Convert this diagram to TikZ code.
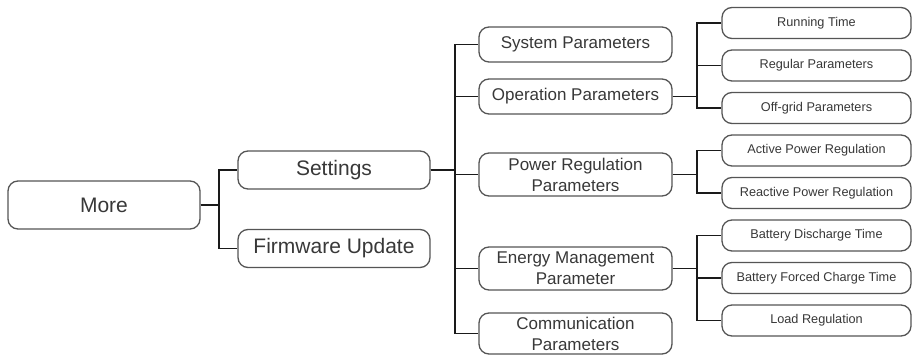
\documentclass[tikz,border=0pt]{standalone}
\usepackage{fontspec}
\setmainfont{Liberation Sans}
\usepackage{xcolor}
\definecolor{boxgray}{HTML}{555555}
\definecolor{textgray}{HTML}{383838}
\definecolor{linkblack}{HTML}{1A1A1A}
\usepackage{tikz}
\usetikzlibrary{positioning}

\begin{document}
\begin{tikzpicture}[
  x=1pt,y=-1pt,
  node distance=10.2pt,
  base/.style ={rectangle,draw=boxgray,line width=1.3pt,rounded corners=10pt,
                fill=white,text=textgray,align=center,inner sep=2pt},
  root/.style ={base,minimum width=192pt,minimum height=48pt,
                font=\fontsize{21}{25}\selectfont},
  menu/.style ={base,minimum width=192pt,minimum height=38pt,
                font=\fontsize{21}{25}\selectfont},
  group/.style={base,minimum width=193pt,minimum height=35pt,
                font=\fontsize{17}{21}\selectfont},
  leaf/.style ={base,minimum width=189pt,minimum height=31pt,
                font=\fontsize{12.7}{15}\selectfont},
  link/.style ={line width=1.8pt,linkblack}
]
\useasboundingbox (0,0) rectangle (912,355);

% left part
\node[root] (more)     at (104,205)   {More};
\node[menu] (settings) at (334,170)   {Settings};
\node[menu] (firmware) at (334,248.5) {Firmware Update};

% settings groups
\node[group] (sys)    at (575.5,44.5)  {System Parameters};
\node[group] (op)     at (575.5,96.5)  {Operation Parameters};
\node[group,minimum height=43pt] (power)  at (575.5,174.5) {Power Regulation\\Parameters};
\node[group,minimum height=43pt] (energy) at (575.5,268.5) {Energy Management\\Parameter};
\node[group,minimum height=41pt] (comm)   at (575.5,333.5) {Communication\\Parameters};

% leaves
\node[leaf] (run)       at (816.5,23)  {Running Time};
\node[leaf,below=of run]       (regular)   {Regular Parameters};
\node[leaf,below=of regular]   (offgrid)   {Off-grid Parameters};
\node[leaf,below=of offgrid]   (active)    {Active Power Regulation};
\node[leaf,below=of active]    (reactive)  {Reactive Power Regulation};
\node[leaf,below=of reactive]  (discharge) {Battery Discharge Time};
\node[leaf,below=of discharge] (forced)    {Battery Forced Charge Time};
\node[leaf,below=of forced]    (load)      {Load Regulation};

% branch points
\coordinate (jmore)  at (219,0);
\coordinate (jset)   at (455,0);
\coordinate (jright) at (697,0);

\foreach \n in {settings,firmware}
  \draw[link] (more.east) -- (more.east -| jmore) |- (\n.west);
\foreach \n in {sys,op,power,energy,comm}
  \draw[link] (settings.east) -- (settings.east -| jset) |- (\n.west);
\foreach \n in {run,regular,offgrid}
  \draw[link] (op.east) -- (op.east -| jright) |- (\n.west);
\foreach \n in {active,reactive}
  \draw[link] (power.east) -- (power.east -| jright) |- (\n.west);
\foreach \n in {discharge,forced,load}
  \draw[link] (energy.east) -- (energy.east -| jright) |- (\n.west);

\end{tikzpicture}
\end{document}
